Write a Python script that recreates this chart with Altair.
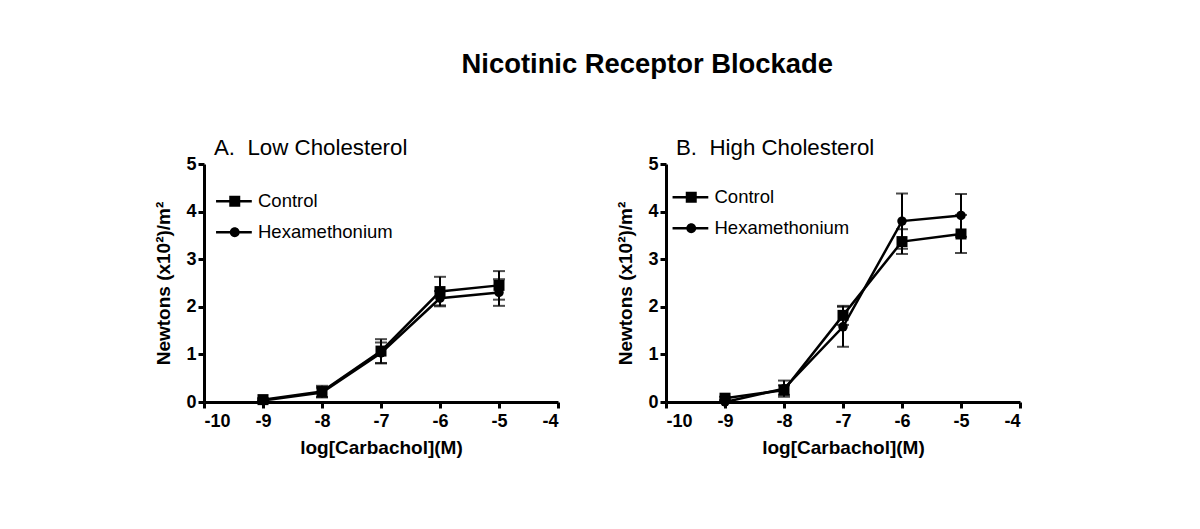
import altair as alt
import pandas as pd

FONT = "Liberation Sans"

x_vals = [-9, -8, -7, -6, -5]
series_names = ["Control", "Hexamethonium"]

a_control = [0.05, 0.22, 1.07, 2.32, 2.45]
a_control_err = [0.03, 0.12, 0.25, 0.31, 0.30]
a_hex = [0.03, 0.20, 1.03, 2.18, 2.30]
a_hex_err = [0.02, 0.10, 0.22, 0.15, 0.28]

b_control = [0.08, 0.25, 1.82, 3.37, 3.53]
b_control_err = [0.03, 0.10, 0.20, 0.26, 0.40]
b_hex = [0.00, 0.28, 1.58, 3.80, 3.92]
b_hex_err = [0.02, 0.17, 0.42, 0.58, 0.45]

x_ticks = [-10, -9, -8, -7, -6, -5, -4]
y_ticks = [0, 1, 2, 3, 4, 5]

main_title = "Nicotinic Receptor Blockade"
panel_a_title = "A. \u00a0Low Cholesterol"
panel_b_title = "B. \u00a0High Cholesterol"
x_title = "log[Carbachol](M)"
y_title = "Newtons (x10\u00b2)/m\u00b2"

# legend glyphs: short line segment through the marker (filled shapes)
SQ_PATH = "M-3.4,-0.23H3.1V0.23H-3.4Z M-1,-1H1V1H-1Z"
CI_PATH = "M-3.4,-0.23H3.1V0.23H-3.4Z M0.9,0A0.9,0.9,0,1,1,-0.9,0A0.9,0.9,0,1,1,0.9,0Z"


def make_df(ctrl, ctrl_err, hexa, hexa_err):
    rows = []
    for name, ys, es in [("Control", ctrl, ctrl_err), ("Hexamethonium", hexa, hexa_err)]:
        for x, y, e in zip(x_vals, ys, es):
            rows.append({"x": x, "y": y, "lo": y - e, "hi": y + e, "series": name})
    return pd.DataFrame(rows)


def panel(df, title, legend_x, legend_y):
    base = alt.Chart(df)
    xenc = alt.X("x:Q", scale=alt.Scale(domain=[-10, -4], nice=False, zero=False),
                 axis=alt.Axis(values=x_ticks, title=x_title, labelExpr="'' + datum.value",
                               titlePadding=8, labelPadding=4))
    yscale = alt.Scale(domain=[0, 5], nice=False)
    yaxis = alt.Axis(values=y_ticks, title=y_title, titlePadding=12, labelPadding=2)
    line = base.mark_line(color="black", strokeWidth=2.5).encode(
        x=xenc, y=alt.Y("y:Q", scale=yscale, axis=yaxis), detail="series:N")
    rules = base.mark_rule(color="black", strokeWidth=2).encode(
        x=xenc, y=alt.Y("lo:Q", scale=yscale, axis=yaxis), y2="hi:Q")
    cap_hi = base.mark_tick(orient="horizontal", color="black", size=12, thickness=2).encode(
        x=xenc, y=alt.Y("hi:Q", scale=yscale, axis=yaxis))
    cap_lo = base.mark_tick(orient="horizontal", color="black", size=12, thickness=2).encode(
        x=xenc, y=alt.Y("lo:Q", scale=yscale, axis=yaxis))
    pts = base.mark_point(filled=True, color="black", opacity=1).encode(
        x=xenc, y=alt.Y("y:Q", scale=yscale, axis=yaxis),
        shape=alt.Shape("series:N",
                        scale=alt.Scale(domain=series_names, range=["square", "circle"]),
                        legend=None),
        size=alt.Size("series:N", scale=alt.Scale(domain=series_names, range=[121, 90]),
                      legend=None))
    leg = base.transform_filter("datum.x > 100").mark_point(
        filled=True, color="black", opacity=1, size=121).encode(
        x=xenc, y=alt.Y("y:Q", scale=yscale, axis=yaxis),
        shape=alt.Shape("series:N",
                        scale=alt.Scale(domain=series_names, range=[SQ_PATH, CI_PATH]),
                        legend=alt.Legend(
                            title=None, orient="none", legendX=legend_x, legendY=legend_y,
                            labelFontSize=18.5, labelFont=FONT, labelColor="black",
                            symbolSize=121, labelOffset=14, rowPadding=12,
                            symbolFillColor="black", symbolStrokeWidth=0,
                            symbolOpacity=1)))
    return alt.layer(line, rules, cap_hi, cap_lo, pts, leg).resolve_scale(
        shape="independent", size="independent").properties(
        width=354, height=238,
        title=alt.TitleParams(title, anchor="start", frame="group", fontSize=22.3,
                              fontWeight="normal", font=FONT, color="black", dx=10,
                              offset=-4))


pa = panel(make_df(a_control, a_control_err, a_hex, a_hex_err), panel_a_title, 21.5, 28)
pb = panel(make_df(b_control, b_control_err, b_hex, b_hex_err), panel_b_title, 16, 24)

chart = alt.hconcat(pa, pb, spacing=56).resolve_scale(
    shape="independent", size="independent").properties(
    title=alt.TitleParams(main_title, anchor="middle", fontSize=27.4, fontWeight="bold",
                          font=FONT, color="black", dx=59, offset=58),
    padding={"left": 146, "top": 43, "right": 10, "bottom": 10},
).configure_view(stroke=None).configure_axis(
    grid=False, domainColor="black", domainWidth=3, tickColor="black", tickWidth=3,
    tickSize=6, labelFont=FONT, labelFontSize=18, labelFontWeight="bold", labelColor="black",
    titleFont=FONT, titleFontSize=19, titleFontWeight="bold", titleColor="black",
)

chart.save("out.html", embed_options={"renderer": "svg", "actions": False})
